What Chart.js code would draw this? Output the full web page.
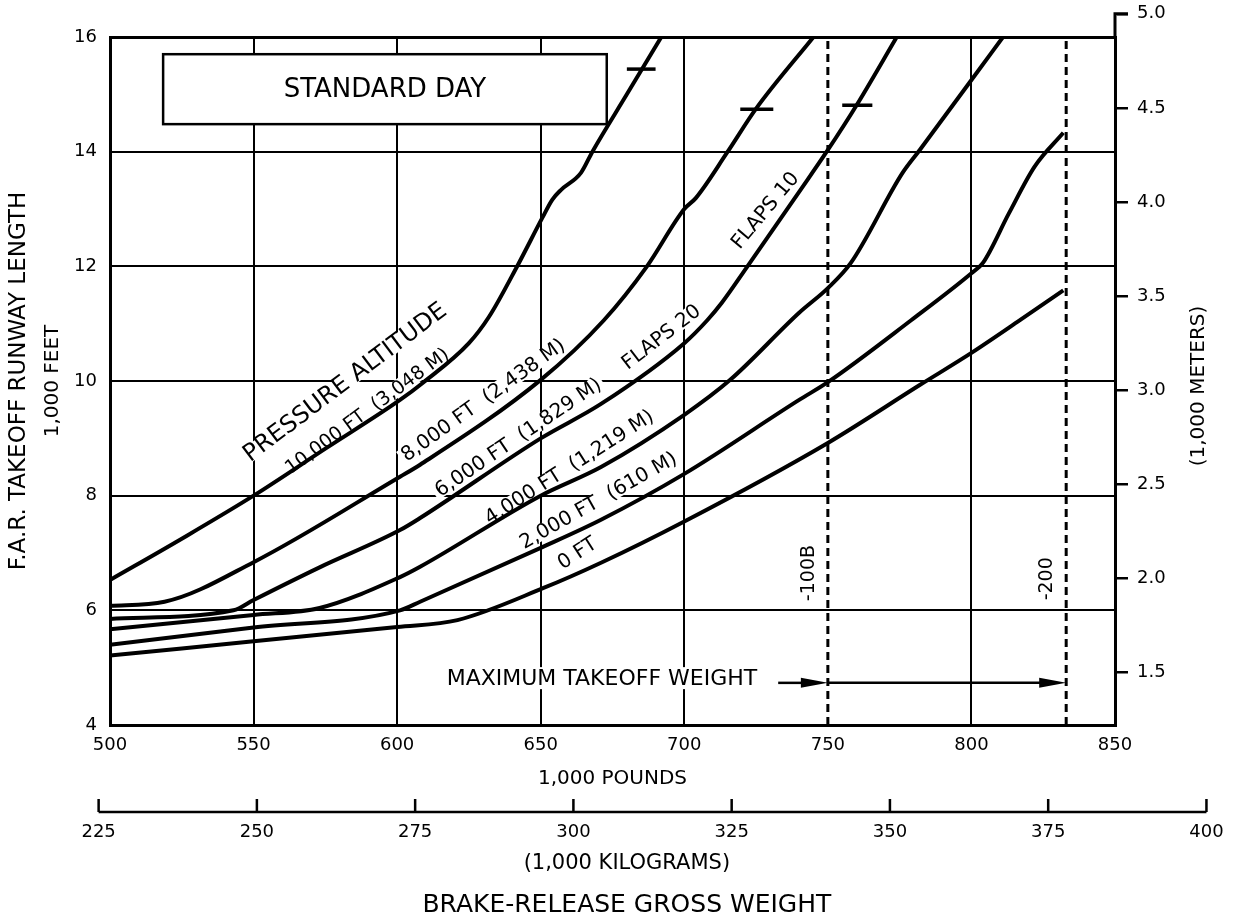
<!DOCTYPE html>
<html>
<head>
<meta charset="utf-8">
<title>F.A.R. Takeoff Runway Length - Standard Day</title>
<script src="https://cdn.jsdelivr.net/npm/chart.js@4.4.1/dist/chart.umd.min.js"></script>
<style>
  html, body { margin: 0; padding: 0; background: #fff; }
  canvas { display: block; }
</style>
</head>
<body>
<canvas id="runwayChart" width="1234" height="920"></canvas>
<script>
// axis ticks
const WEIGHT_TICKS = [500, 550, 600, 650, 700, 750, 800, 850];   // 1,000 lb
const LENGTH_TICKS = [4, 6, 8, 10, 12, 14, 16];                  // 1,000 ft
const METER_TICKS = [1.5, 2.0, 2.5, 3.0, 3.5, 4.0, 4.5, 5.0];    // 1,000 m
const KG_TICKS = [225, 250, 275, 300, 325, 350, 375, 400];       // 1,000 kg
const LB_PER_KG = 2.20462;
const FT_PER_M = 3.28084;

// pressure altitude curves: weight (1,000 lb) vs runway length (1,000 ft)
const wt0 = [500, 550, 600, 621, 651, 671, 700, 750, 782, 800, 816, 832];
const len0 = [5.21, 5.46, 5.71, 5.83, 6.39, 6.83, 7.55, 8.92, 9.93, 10.49, 11.03, 11.58];

const wt2000 = [500, 550, 601, 608, 650, 671, 700, 740, 750, 779, 800, 804, 813, 822, 832];
const len2000 = [5.40, 5.70, 6.00, 6.15, 7.09, 7.58, 8.38, 9.67, 9.98, 11.06, 11.88, 12.06, 12.92, 13.74, 14.33];

const wt4000 = [500, 550, 573, 601, 608, 650, 671, 700, 716, 740, 750, 758, 776, 782, 800, 811];
const len4000 = [5.67, 5.92, 6.04, 6.58, 6.76, 8.00, 8.50, 9.41, 10.02, 11.19, 11.62, 12.06, 13.63, 14.03, 15.25, 16.0];

const wt6000 = [500, 543, 550, 573, 601, 608, 650, 671, 700, 708, 713, 722, 740, 750, 760, 774];
const len6000 = [5.85, 6.00, 6.18, 6.75, 7.40, 7.61, 9.00, 9.60, 10.66, 11.06, 11.36, 12.0, 13.3, 14.03, 14.81, 16.0];

const wt8000 = [500, 519, 550, 601, 608, 650, 672, 687, 700, 704, 715, 725, 745];
const len8000 = [6.08, 6.15, 6.84, 8.33, 8.54, 10.02, 11.06, 12.0, 13.0, 13.19, 13.99, 14.75, 16.0];

const wt10000 = [500, 525, 550, 575, 601, 609, 625, 632, 642, 650.5, 654, 657, 664, 668, 680, 692];
const len10000 = [6.53, 7.25, 8.0, 8.82, 9.67, 9.97, 10.66, 11.12, 12.02, 12.84, 13.16, 13.33, 13.63, 14.0, 15.0, 16.0];

// short limit marks across the upper curves
const markWt10000 = [680, 690];
const markLen10000 = [15.44, 15.44];
const markWt8000 = [719.5, 731];
const markLen8000 = [14.74, 14.74];
const markWt6000 = [755, 765.5];
const markLen6000 = [14.81, 14.81];

// maximum takeoff weights (1,000 lb)
const mtowModels = ["-100B", "-200"];
const mtowWeights = [750, 833];
const mtowSpan = [4, 16];

const FONT = "'DejaVu Sans', sans-serif";
Chart.defaults.font.family = FONT;
Chart.defaults.color = "#000";

const toPoints = (xs, ys) => xs.map((x, i) => ({ x: x, y: ys[i] }));

const curve = (label, xs, ys) => ({
  label: label,
  data: toPoints(xs, ys),
  borderColor: "#000",
  borderWidth: 4,
  pointRadius: 0,
  fill: false,
  cubicInterpolationMode: "monotone",
});

const straight = (label, xs, ys, dash) => ({
  label: label,
  data: toPoints(xs, ys),
  borderColor: "#000",
  borderWidth: dash ? 3 : 3.5,
  borderDash: dash || [],
  pointRadius: 0,
  fill: false,
  tension: 0,
});

// text laid along the curves (data coords, angle in degrees, font size)
const curveNotes = [
  { text: "PRESSURE ALTITUDE", x: 581.8, y: 9.98, angle: -37, size: 24 },
  { text: "10,000 FT  (3,048 M)", x: 589.5, y: 9.48, angle: -36.5, size: 19 },
  { text: "8,000 FT  (2,438 M)", x: 629.9, y: 9.67, angle: -35.5, size: 20 },
  { text: "6,000 FT  (1,829 M)", x: 642.1, y: 9.02, angle: -34, size: 20 },
  { text: "4,000 FT  (1,219 M)", x: 659.9, y: 8.5, angle: -32.5, size: 20 },
  { text: "2,000 FT  (610 M)", x: 670, y: 7.92, angle: -29.5, size: 20 },
  { text: "0 FT", x: 662.7, y: 7.0, angle: -33, size: 20 },
  { text: "FLAPS 20", x: 691.9, y: 10.77, angle: -37.5, size: 20 },
  { text: "FLAPS 10", x: 728.1, y: 12.98, angle: -50, size: 20 },
];

function rotatedText(ctx, text, px, py, angle, font, mode) {
  ctx.save();
  ctx.translate(px, py);
  ctx.rotate(angle * Math.PI / 180);
  ctx.font = font;
  ctx.textAlign = "center";
  ctx.textBaseline = "middle";
  if (mode === "bg") {
    const w = ctx.measureText(text).width;
    ctx.fillStyle = "#fff";
    ctx.fillRect(-w / 2 - 3, -8, w + 6, 16);
  } else {
    ctx.fillStyle = "#000";
    ctx.fillText(text, 0, 1);
  }
  ctx.restore();
}

function arrow(ctx, x1, x2, yy) {
  ctx.beginPath();
  ctx.moveTo(x1, yy);
  ctx.lineTo(x2 - 20, yy);
  ctx.stroke();
  ctx.beginPath();
  ctx.moveTo(x2, yy);
  ctx.lineTo(x2 - 27, yy - 5);
  ctx.lineTo(x2 - 27, yy + 5);
  ctx.closePath();
  ctx.fill();
}

const decorPlugin = {
  id: "decor",
  beforeDatasetsDraw(chart) {
    const { ctx } = chart;
    const x = chart.scales.x, y = chart.scales.y;
    ctx.save();

    // STANDARD DAY box
    const bx1 = x.getPixelForValue(518.5), bx2 = x.getPixelForValue(673);
    const by1 = y.getPixelForValue(15.7), by2 = y.getPixelForValue(14.48);
    ctx.fillStyle = "#fff";
    ctx.fillRect(bx1, by1, bx2 - bx1, by2 - by1);
    ctx.strokeStyle = "#000";
    ctx.lineWidth = 2.5;
    ctx.strokeRect(bx1, by1, bx2 - bx1, by2 - by1);
    ctx.fillStyle = "#000";
    ctx.font = "26px " + FONT;
    ctx.textAlign = "center";
    ctx.textBaseline = "middle";
    ctx.fillText("STANDARD DAY", (bx1 + bx2) / 2, (by1 + by2) / 2 + 1);

    // white gaps in the grid first, then the text
    ["bg", "text"].forEach(mode => {
      curveNotes.forEach(n => {
        rotatedText(ctx, n.text, x.getPixelForValue(n.x), y.getPixelForValue(n.y), n.angle, n.size + "px " + FONT, mode);
      });
    });

    // model labels beside the dashed limits
    rotatedText(ctx, mtowModels[0], x.getPixelForValue(mtowWeights[0]) - 20, y.getPixelForValue(6.65), -90, "19px " + FONT, "text");
    rotatedText(ctx, mtowModels[1], x.getPixelForValue(mtowWeights[1]) - 20, y.getPixelForValue(6.55), -90, "19px " + FONT, "text");

    // MAXIMUM TAKEOFF WEIGHT
    const ay = y.getPixelForValue(4.8);
    ctx.font = "22px " + FONT;
    ctx.textAlign = "right";
    const tx = x.getPixelForValue(725.4);
    const tw = ctx.measureText("MAXIMUM TAKEOFF WEIGHT").width;
    ctx.fillStyle = "#fff";
    ctx.fillRect(tx - tw - 4, ay - 12, tw + 8, 22);
    ctx.fillStyle = "#000";
    ctx.fillText("MAXIMUM TAKEOFF WEIGHT", tx, ay);
    ctx.restore();
  },
  afterDraw(chart) {
    const { ctx, chartArea } = chart;
    const x = chart.scales.x, y = chart.scales.y, y2 = chart.scales.y2;
    ctx.save();
    ctx.strokeStyle = "#000";
    ctx.fillStyle = "#000";

    // second line of the left axis title
    rotatedText(ctx, "1,000 FEET", 52, (chartArea.top + chartArea.bottom) / 2, -90, "20px " + FONT, "text");

    // arrows to the maximum takeoff weights
    const ay = y.getPixelForValue(4.77) + 2;
    ctx.lineWidth = 2.5;
    arrow(ctx, x.getPixelForValue(732.7), x.getPixelForValue(mtowWeights[0]), ay);
    arrow(ctx, x.getPixelForValue(mtowWeights[0]), x.getPixelForValue(mtowWeights[1]), ay);

    // meters axis runs up to 5.0
    const top5 = y2.getPixelForValue(METER_TICKS[METER_TICKS.length - 1]);
    ctx.lineWidth = 3;
    ctx.beginPath();
    ctx.moveTo(chartArea.right, chartArea.top);
    ctx.lineTo(chartArea.right, top5 - 1.5);
    ctx.moveTo(chartArea.right, top5);
    ctx.lineTo(chartArea.right + 13, top5);
    ctx.stroke();
    rotatedText(ctx, "(1,000 METERS)", 1198, (chartArea.top + chartArea.bottom) / 2 + 5, -90, "20px " + FONT, "text");

    // kilogram scale under the pound axis
    const base = x.bottom + 17;
    const kx = v => x.getPixelForValue(v * LB_PER_KG);
    ctx.lineWidth = 2.5;
    ctx.beginPath();
    ctx.moveTo(kx(KG_TICKS[0]), base);
    ctx.lineTo(kx(KG_TICKS[KG_TICKS.length - 1]), base);
    KG_TICKS.forEach(v => {
      ctx.moveTo(kx(v), base);
      ctx.lineTo(kx(v), base - 13);
    });
    ctx.stroke();
    ctx.font = "18px " + FONT;
    ctx.textAlign = "center";
    ctx.textBaseline = "middle";
    KG_TICKS.forEach(v => ctx.fillText(String(v), kx(v), base + 20));
    const mid = x.getPixelForValue(680);
    ctx.font = "21px " + FONT;
    ctx.fillText("(1,000 KILOGRAMS)", mid, base + 52);
    ctx.font = "25px " + FONT;
    ctx.fillText("BRAKE-RELEASE GROSS WEIGHT", mid, base + 93);
    ctx.restore();
  },
};

const ctx = document.getElementById("runwayChart").getContext("2d");
const runwayChart = new Chart(ctx, {
  type: "line",
  data: {
    datasets: [
      curve("0 FT", wt0, len0),
      curve("2,000 FT", wt2000, len2000),
      curve("4,000 FT", wt4000, len4000),
      curve("6,000 FT", wt6000, len6000),
      curve("8,000 FT", wt8000, len8000),
      curve("10,000 FT", wt10000, len10000),
      straight("mark 10,000", markWt10000, markLen10000),
      straight("mark 8,000", markWt8000, markLen8000),
      straight("mark 6,000", markWt6000, markLen6000),
      straight(mtowModels[0], [mtowWeights[0], mtowWeights[0]], mtowSpan, [8, 5]),
      straight(mtowModels[1], [mtowWeights[1], mtowWeights[1]], mtowSpan, [8, 5]),
    ],
  },
  options: {
    responsive: false,
    animation: false,
    layout: { padding: { top: 37, bottom: 125, left: 0, right: 0 } },
    plugins: { legend: { display: false }, tooltip: { enabled: false } },
    scales: {
      x: {
        type: "linear",
        min: 500,
        max: 850,
        afterBuildTicks: s => { s.ticks = WEIGHT_TICKS.map(v => ({ value: v })); },
        afterFit: s => { s.height = 70; },
        ticks: { autoSkip: false, maxRotation: 0, padding: 10, font: { size: 18 } },
        grid: {
          drawTicks: false,
          color: c => (c.tick && c.tick.value === 750 ? "rgba(0,0,0,0)" : "#000"),
          lineWidth: c => (c.tick && (c.tick.value === 850 || c.tick.value === 500) ? 3 : 2),
        },
        border: { color: "#000", width: 3 },
        title: { display: true, text: "1,000 POUNDS", font: { size: 20 }, padding: { top: 0, bottom: 4 } },
      },
      y: {
        min: 4,
        max: 16,
        afterBuildTicks: s => { s.ticks = LENGTH_TICKS.map(v => ({ value: v })); },
        afterFit: s => { s.width = 110; },
        ticks: { autoSkip: false, padding: 13, font: { size: 18 } },
        grid: {
          drawTicks: false,
          color: "#000",
          lineWidth: c => (c.tick && c.tick.value === 16 ? 3 : 2),
        },
        border: { color: "#000", width: 3 },
        title: {
          display: true,
          text: "F.A.R. TAKEOFF RUNWAY LENGTH",
          font: { size: 23, lineHeight: 1.2 },
          padding: { top: 5, bottom: 0 },
        },
      },
      y2: {
        position: "right",
        min: 4 / FT_PER_M,
        max: 16 / FT_PER_M,
        afterBuildTicks: s => { s.ticks = METER_TICKS.map(v => ({ value: v })); },
        afterFit: s => { s.width = 119; },
        ticks: { autoSkip: false, padding: 9, font: { size: 18 }, callback: v => v.toFixed(1) },
        grid: { drawOnChartArea: false, drawTicks: true, tickLength: 13, color: "#000", lineWidth: 2.5 },
        border: { color: "#000", width: 3 },
      },
    },
  },
  plugins: [decorPlugin],
});
</script>
</body>
</html>
